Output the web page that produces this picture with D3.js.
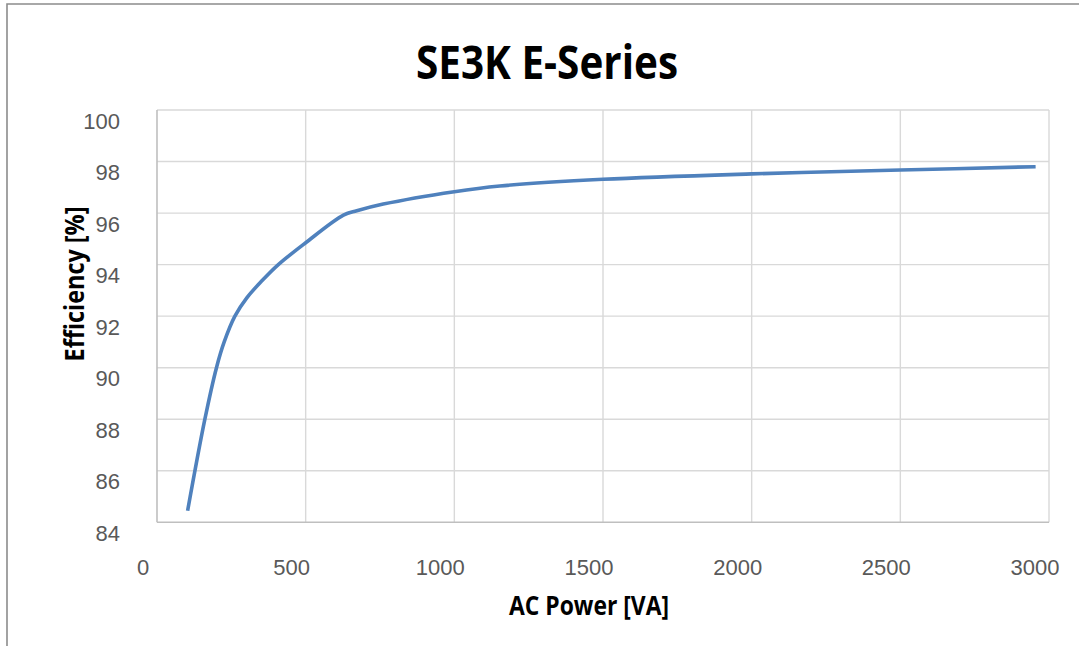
<!DOCTYPE html>
<html>
<head>
<meta charset="utf-8">
<script src="https://cdn.jsdelivr.net/npm/d3@7"></script>
<style>
  html, body { margin: 0; padding: 0; background: #fff; }
  svg { display: block; }
</style>
</head>
<body>
<svg id="chart" width="1079" height="646"></svg>
<script>
// ---- data ----
const powerVA = [103, 161, 200, 226, 262, 302, 352, 408, 498, 627, 672, 761, 1000, 1153, 1500, 2000, 2500, 2955];
const efficiency = [84.45, 88, 90, 91, 92, 92.71, 93.36, 94, 94.83, 95.92, 96.09, 96.35, 96.83, 97.05, 97.31, 97.52, 97.67, 97.8];
const xTicks = [0, 500, 1000, 1500, 2000, 2500, 3000];
const yTicks = [84, 86, 88, 90, 92, 94, 96, 98, 100];
const titleText = "SE3K E-Series";
const xTitle = "AC Power [VA]";
const yTitle = "Efficiency [%]";

const svg = d3.select("#chart");
const W = 1079, H = 646;
const plot = { left: 157, right: 1049, top: 110, bottom: 522.3 };

const x = d3.scaleLinear().domain([0, 3000]).range([plot.left, plot.right]);
const y = d3.scaleLinear().domain([84, 100]).range([plot.bottom, plot.top]);

// outer chart border (top and left visible)
svg.append("path")
  .attr("d", `M7,${H} L7,4 L${W},4`)
  .attr("fill", "none")
  .attr("stroke", "#8c8c8c")
  .attr("stroke-width", 1.6);

// gridlines
svg.append("g").selectAll("line.h").data(yTicks.filter(d => d !== 84)).join("line")
  .attr("x1", plot.left).attr("x2", plot.right)
  .attr("y1", d => y(d)).attr("y2", d => y(d))
  .attr("stroke", "#d9d9d9").attr("stroke-width", 1.4);
svg.append("g").selectAll("line.v").data(xTicks.filter(d => d !== 0)).join("line")
  .attr("y1", plot.top).attr("y2", plot.bottom)
  .attr("x1", d => x(d)).attr("x2", d => x(d))
  .attr("stroke", "#d9d9d9").attr("stroke-width", 1.4);

// axis lines
svg.append("line")
  .attr("x1", plot.left).attr("x2", plot.left)
  .attr("y1", plot.top).attr("y2", plot.bottom)
  .attr("stroke", "#bfbfbf").attr("stroke-width", 1.6);
svg.append("line")
  .attr("x1", plot.left).attr("x2", plot.right)
  .attr("y1", plot.bottom).attr("y2", plot.bottom)
  .attr("stroke", "#bfbfbf").attr("stroke-width", 1.6);

// tick labels
svg.append("g").selectAll("text").data(yTicks).join("text")
  .attr("x", 120)
  .attr("y", d => y(d) + 18.5)
  .attr("text-anchor", "end")
  .attr("font-family", "'Liberation Sans', Arial, sans-serif")
  .attr("font-size", 22)
  .attr("fill", "#595959")
  .text(d => d);

svg.append("g").selectAll("text").data(xTicks).join("text")
  .attr("x", d => x(d) - 14)
  .attr("y", 575)
  .attr("text-anchor", "middle")
  .attr("font-family", "'Liberation Sans', Arial, sans-serif")
  .attr("font-size", 22)
  .attr("fill", "#595959")
  .text(d => d);

// line
const line = d3.line()
  .x((d, i) => x(powerVA[i]))
  .y((d, i) => y(efficiency[i]))
  .curve(d3.curveCatmullRom.alpha(0.5));
svg.append("path")
  .datum(efficiency)
  .attr("d", line)
  .attr("fill", "none")
  .attr("stroke", "#4f81bd")
  .attr("stroke-width", 3.6)
  .attr("stroke-linejoin", "round");

// title
svg.append("text")
  .attr("x", 547).attr("y", 79)
  .attr("text-anchor", "middle")
  .attr("font-family", "'Open Sans', sans-serif")
  .attr("font-weight", "bold")
  .attr("font-size", 47)
  .attr("textLength", 262)
  .attr("lengthAdjust", "spacingAndGlyphs")
  .attr("fill", "#000")
  .text(titleText);

// axis titles
svg.append("text")
  .attr("x", 589).attr("y", 615)
  .attr("text-anchor", "middle")
  .attr("font-family", "'Open Sans', sans-serif")
  .attr("font-weight", "bold")
  .attr("font-size", 26)
  .attr("textLength", 160)
  .attr("lengthAdjust", "spacingAndGlyphs")
  .attr("fill", "#000")
  .text(xTitle);

svg.append("text")
  .attr("transform", "translate(84,284) rotate(-90)")
  .attr("text-anchor", "middle")
  .attr("font-family", "'Open Sans', sans-serif")
  .attr("font-weight", "bold")
  .attr("font-size", 26)
  .attr("textLength", 155)
  .attr("lengthAdjust", "spacingAndGlyphs")
  .attr("fill", "#000")
  .text(yTitle);
</script>
</body>
</html>
